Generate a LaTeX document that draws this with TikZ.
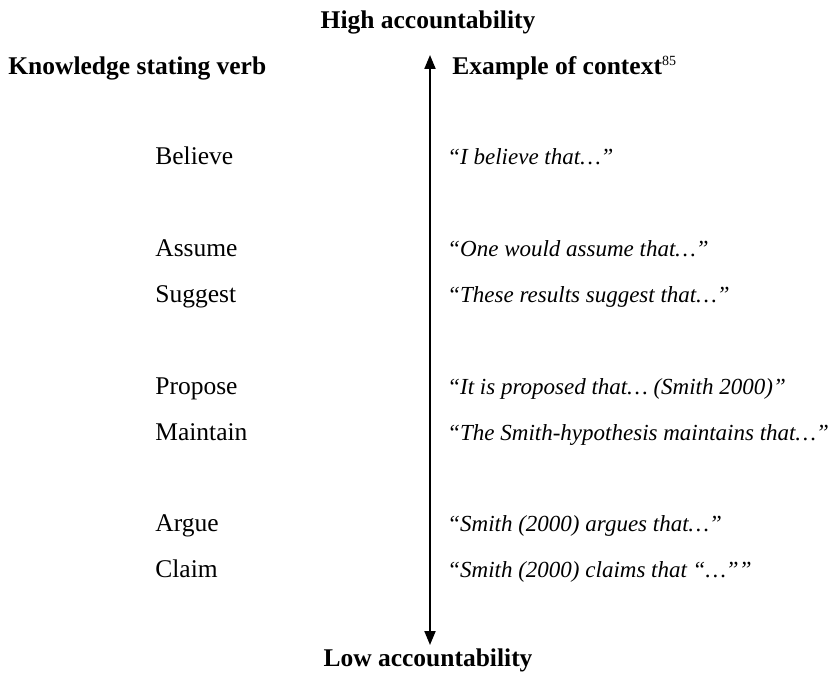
\documentclass[tikz,border=0pt]{standalone}
\usepackage{fontspec}
\setmainfont{Liberation Serif}
\usetikzlibrary{positioning,arrows.meta}

\tikzset{
  lbl/.style={inner sep=0pt, text height=0.72em, text depth=0.22em},
  head/.style={lbl, font=\bfseries},
  verb/.style={lbl, anchor=west},
  ctx/.style={lbl, anchor=west, font=\fontsize{23}{28}\selectfont\itshape},
  acctip/.tip={Triangle[width=11pt,length=14pt]},
}

\begin{document}
\begin{tikzpicture}[x=1pt, y=-1pt, thick]
 \fontsize{25.5}{30}\selectfont
 \useasboundingbox (0,0) rectangle (835,674);
 % headings
 \node [head] (high) at (428,22) {High accountability};
 \node [head, anchor=west] (verbs) at (8,68) {Knowledge stating verb};
 \node [head, anchor=west] (context) at (452,68) {Example of context\textsuperscript{\mdseries\fontsize{14}{14}\selectfont 85}};
 \node [head] (low) at (428,660) {Low accountability};
 % scale
 \coordinate (top) at (430,55);
 \coordinate (bottom) at (430,645);
 \draw [acctip-acctip, line width=2pt] (top) -- (bottom);
 % verbs
 \node [verb] (believe) at (155,158) {Believe};
 \node [verb, below=92pt of believe.west, anchor=west] (assume) {Assume};
 \node [verb, below=46pt of assume.west, anchor=west] (suggest) {Suggest};
 \node [verb, below=92pt of suggest.west, anchor=west] (propose) {Propose};
 \node [verb, below=46pt of propose.west, anchor=west] (maintain) {Maintain};
 \node [verb, below=91pt of maintain.west, anchor=west] (argue) {Argue};
 \node [verb, below=46pt of argue.west, anchor=west] (claim) {Claim};
 % contexts
 \node [ctx] (cbelieve) at (447,158) {“I believe that…”};
 \node [ctx] (cassume) at (447,250) {“One would assume that…”};
 \node [ctx] (csuggest) at (447,296) {“These results suggest that…”};
 \node [ctx] (cpropose) at (447,388) {“It is proposed that… (Smith 2000)”};
 \node [ctx] (cmaintain) at (447,434) {“The Smith-hypothesis maintains that…”};
 \node [ctx] (cargue) at (447,525) {“Smith (2000) argues that…”};
 \node [ctx] (cclaim) at (447,571) {“Smith (2000) claims that “…””};
\end{tikzpicture}
\end{document}
